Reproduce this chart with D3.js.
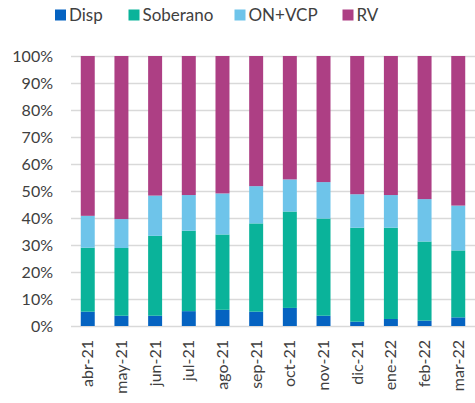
<!DOCTYPE html>
<html><head><meta charset="utf-8">
<script src="https://cdn.jsdelivr.net/npm/d3@7"></script>
<style>
html,body{margin:0;padding:0;background:#fff;}
svg{display:block;font-family:Lato,"Open Sans",sans-serif;}
</style></head>
<body><svg id="c" width="475" height="403"></svg>
<script>
const categories = ["abr-21","may-21","jun-21","jul-21","ago-21","sep-21","oct-21","nov-21","dic-21","ene-22","feb-22","mar-22"];
const seriesNames = ["Disp","Soberano","ON+VCP","RV"];
const disp     = [5.3, 3.8, 3.8, 5.5, 6.0, 5.3, 6.7, 3.8, 1.6, 2.6, 2.0, 3.2];
const soberano = [23.7,25.1,29.6,29.8,27.9,32.7,35.7,36.0,34.8,33.8,29.3,24.8];
const onvcp    = [11.8,10.7,14.9,13.2,15.2,13.8,11.9,13.5,12.4,12.1,15.7,16.6];
const rv       = [59.2,60.4,51.7,51.5,50.9,48.2,45.7,46.7,51.2,51.5,53.0,55.4];
const yTicks = [0,10,20,30,40,50,60,70,80,90,100];
const colors = ["#0563C1","#0AB39A","#6EC4EA","#AD3F84"];

const svg = d3.select("#c");
const m = {left:71, right:0, top:56, bottom:77};
const W = 475, H = 403;
const x = d3.scaleBand().domain(categories).range([m.left, W - m.right]).paddingInner(0.585).paddingOuter(0.29);
const y = d3.scaleLinear().domain([0,100]).range([H - m.bottom, m.top]);

const rows = categories.map((c,i)=>({cat:c, Disp:disp[i], Soberano:soberano[i], "ON+VCP":onvcp[i], RV:rv[i]}));
const stack = d3.stack().keys(seriesNames)(rows);

// gridlines
svg.append("g").selectAll("line").data(yTicks).join("line")
  .attr("x1", m.left).attr("x2", W - m.right)
  .attr("y1", d=>Math.round(y(d))+0.5).attr("y2", d=>Math.round(y(d))+0.5)
  .attr("stroke","#d9d9d9").attr("stroke-width",1.5);

// bars
svg.append("g").selectAll("g").data(stack).join("g")
  .attr("fill",(d,i)=>colors[i])
  .selectAll("rect").data(d=>d).join("rect")
  .attr("x", d=>x(d.data.cat))
  .attr("width", x.bandwidth())
  .attr("y", d=>y(d[1]))
  .attr("height", d=>y(d[0]) - y(d[1]));

// y axis labels
const ya = svg.append("g").attr("transform",`translate(${m.left},0)`)
  .call(d3.axisLeft(y).tickValues(yTicks).tickFormat(d=>d+"%").tickSize(0).tickPadding(18));
ya.select(".domain").remove();
ya.selectAll("text").attr("font-size",16).attr("fill","#404040").attr("font-family","Lato,sans-serif");

// x axis labels
const xa = svg.append("g").attr("transform",`translate(0,${H - m.bottom})`)
  .call(d3.axisBottom(x).tickSize(0));
xa.select(".domain").remove();
xa.selectAll("text").attr("font-size",16).attr("fill","#404040").attr("font-family","Lato,sans-serif")
  .attr("transform","rotate(-90)").attr("text-anchor","end").attr("x",-14).attr("y",0).attr("dy","0.35em");

// legend
const legX = [55, 128.5, 234.5, 342.5];
const lg = svg.append("g").selectAll("g").data(seriesNames).join("g")
  .attr("transform",(d,i)=>`translate(${legX[i]},9.5)`);
lg.append("rect").attr("width",11).attr("height",11).attr("fill",(d,i)=>colors[i]);
lg.append("text").attr("x",14).attr("y",5.5).attr("dy","0.35em").attr("font-size",17)
  .attr("fill","#404040").text(d=>d);
</script></body></html>
